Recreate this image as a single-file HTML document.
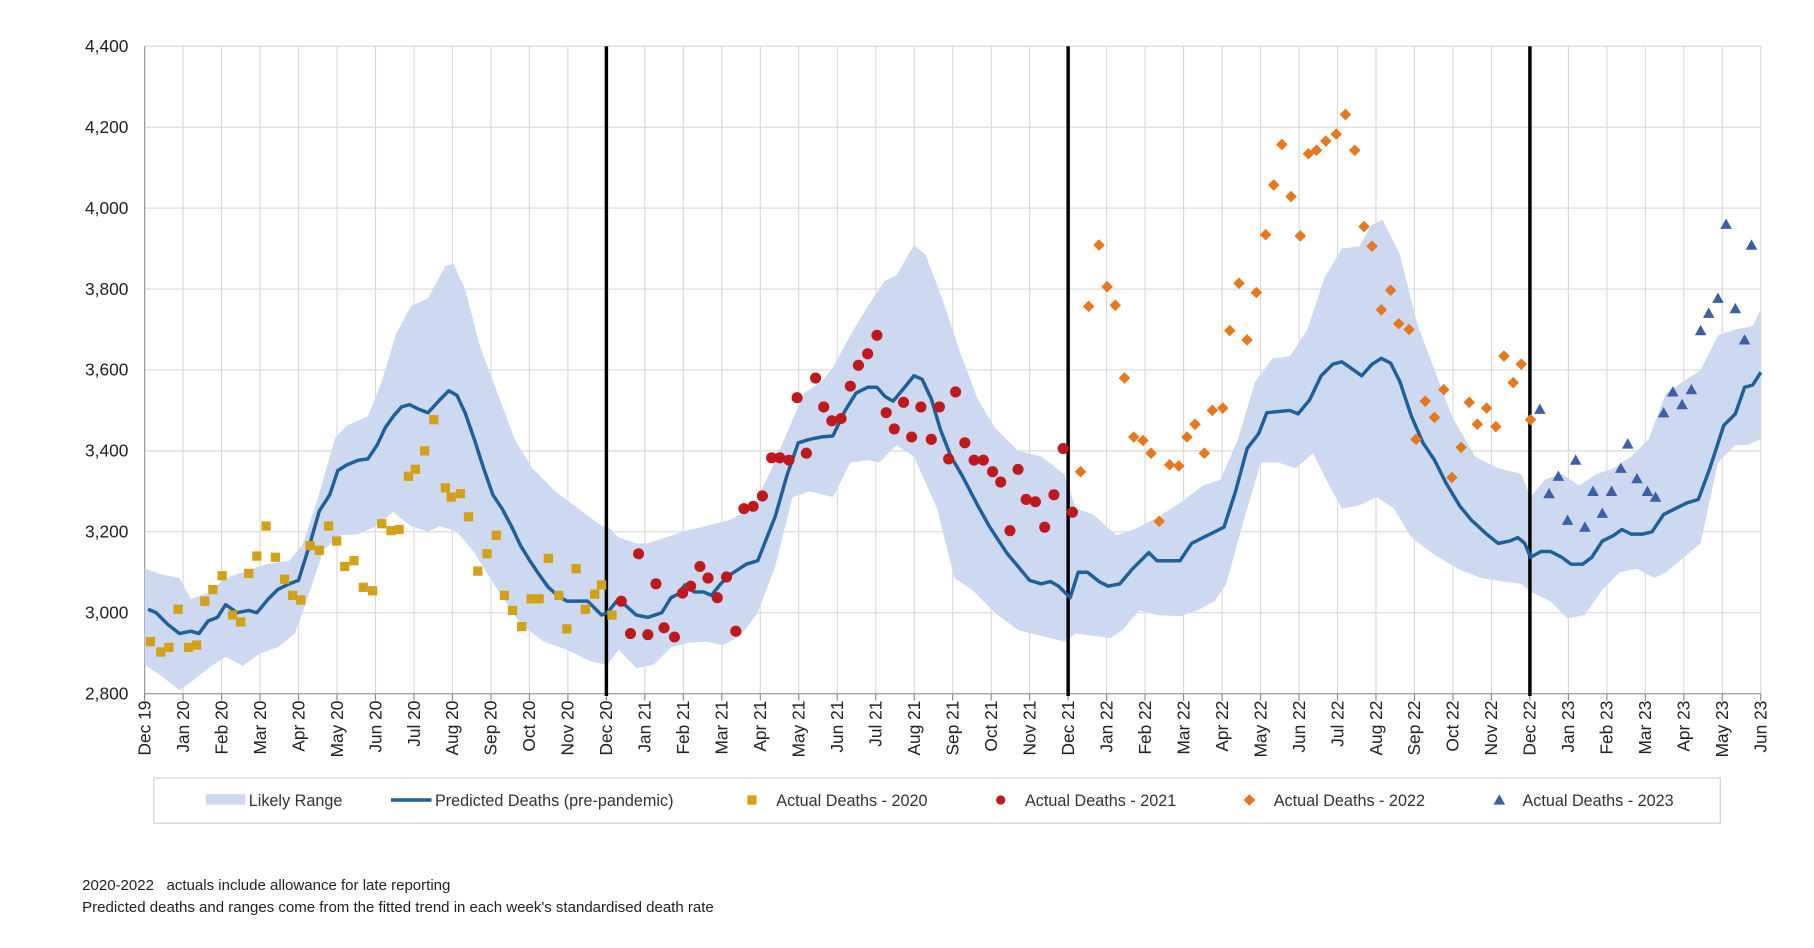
<!DOCTYPE html>
<html><head><meta charset="utf-8"><style>
html,body{margin:0;padding:0;background:#fff;}
svg{display:block;font-family:"Liberation Sans",Arial,sans-serif;}
</style></head><body>
<svg id="s" width="1814" height="948" viewBox="0 0 1568 820" preserveAspectRatio="none" xmlns="http://www.w3.org/2000/svg">
<g id="grid"></g>
<path id="band" fill="#cdd9f0" stroke="none"/>
<g id="vlines"></g>
<polyline id="pred" fill="none" stroke="#1f5f9a" stroke-width="3" stroke-linejoin="round"/>
<g id="pts"></g>
<g id="labels"></g>
<rect x="133" y="673" width="1354" height="39" fill="#fff" stroke="#d0d0d0"/>
<rect x="178" y="687" width="34" height="9" fill="#cdd9f0"/>
<text x="215" y="697" font-size="14" fill="#333">Likely Range</text>
<line x1="338" y1="692" x2="373" y2="692" stroke="#1f5f9a" stroke-width="3"/>
<text x="376" y="697" font-size="14" fill="#333">Predicted Deaths (pre-pandemic)</text>
<rect x="646" y="688" width="8" height="8" fill="#d4a017"/>
<text x="671" y="697" font-size="14" fill="#333">Actual Deaths - 2020</text>
<circle cx="865" cy="692" r="4" fill="#c0191b"/>
<text x="886" y="697" font-size="14" fill="#333">Actual Deaths - 2021</text>
<path d="M1080 687 L1085 692 L1080 697 L1075 692Z" fill="#e8771e"/>
<text x="1101" y="697" font-size="14" fill="#333">Actual Deaths - 2022</text>
<path d="M1296 687 L1301 696 L1291 696Z" fill="#3d5fa8"/>
<text x="1316" y="697" font-size="14" fill="#333">Actual Deaths - 2023</text>
<text x="71" y="770" font-size="13" fill="#222">2020-2022&#160;&#160; actuals include allowance for late reporting</text>
<text x="71" y="789" font-size="13" fill="#222">Predicted deaths and ranges come from the fitted trend in each week's standardised death rate</text>
</svg>
<script>
var NS="http://www.w3.org/2000/svg";
function el(p,t,a,txt){var e=document.createElementNS(NS,t);for(var k in a)e.setAttribute(k,a[k]);if(txt)e.textContent=txt;p.appendChild(e);return e;}
var L=125,R=1522,T=40,B=600;
var g=document.getElementById('grid'),lab=document.getElementById('labels');
for(var i=0;i<=8;i++){var y=T+i*70;el(g,'line',{x1:L,x2:R,y1:y,y2:y,stroke:'#d9d9d9','stroke-width':1});
el(lab,'text',{x:111,y:y+5,'font-size':15,'text-anchor':'end',fill:'#222'},(4400-i*200).toLocaleString('en-US'));}
var mn=['Dec','Jan','Feb','Mar','Apr','May','Jun','Jul','Aug','Sep','Oct','Nov'];
var step=(R-L)/42;
for(var m=0;m<=42;m++){var x=L+m*step;el(g,'line',{x1:x,x2:x,y1:T,y2:B,stroke:'#d9d9d9','stroke-width':1});
el(g,'line',{x1:x,x2:x,y1:B,y2:B+6,stroke:'#888'});
var yr=19+Math.floor((m+11)/12);var name=mn[m%12]+' '+yr;
el(lab,'text',{x:0,y:0,'font-size':15,'text-anchor':'end',fill:'#222',transform:'translate('+(x+5)+',606) rotate(-90)'},name);}
el(g,'line',{x1:L,x2:L,y1:T,y2:B,stroke:'#999'});
el(g,'line',{x1:L,x2:R,y1:B,y2:B,stroke:'#999'});
var vl=document.getElementById('vlines');
[12,24,36].forEach(function(m){var x=L+m*step;el(vl,'line',{x1:x,x2:x,y1:T,y2:B+2,stroke:'#000','stroke-width':3});});
var up=[[125,492],[140,497],[155,500],[165,518],[180,513],[195,500],[210,495],[230,488],[250,485],[262,470],[275,430],[290,378],[300,368],[318,360],[330,330],[342,290],[355,265],[370,258],[385,230],[392,228],[402,250],[415,300],[430,340],[445,380],[460,405],[480,425],[500,440],[520,455],[525,455],[535,465],[550,470],[560,470],[575,465],[590,460],[610,455],[630,450],[650,440],[665,410],[680,375],[695,340],[710,330],[720,318],[735,290],[750,265],[765,243],[775,238],[790,212],[800,220],[815,260],[830,305],[845,345],[860,370],[880,390],[900,395],[920,410],[930,440],[945,445],[965,463],[980,458],[1000,448],[1020,435],[1040,420],[1055,415],[1070,380],[1085,330],[1100,310],[1115,308],[1130,285],[1145,240],[1160,215],[1175,213],[1185,195],[1195,190],[1210,220],[1225,280],[1240,320],[1255,360],[1275,395],[1295,405],[1315,410],[1323,430],[1335,415],[1350,410],[1365,420],[1380,410],[1395,405],[1410,395],[1425,380],[1440,340],[1455,330],[1470,320],[1485,290],[1500,285],[1515,282],[1522,268]];
var lo=[[125,575],[140,585],[155,597],[165,590],[180,578],[195,568],[210,576],[225,565],[240,560],[255,548],[265,520],[280,475],[295,463],[310,462],[325,455],[340,443],[355,455],[370,460],[380,455],[395,460],[410,478],[430,510],[450,540],[470,555],[490,562],[510,572],[525,575],[535,562],[550,578],[565,575],[580,560],[595,556],[610,555],[625,558],[640,550],[655,530],[670,490],[685,430],[700,425],[720,430],[735,400],[750,398],[760,400],[775,385],[790,395],[810,440],[825,500],[840,510],[860,530],[880,545],[900,550],[920,555],[930,548],[945,550],[960,552],[970,545],[985,528],[1000,532],[1020,533],[1035,528],[1050,520],[1060,505],[1075,450],[1090,400],[1105,400],[1120,405],[1135,392],[1150,422],[1160,440],[1175,437],[1190,430],[1205,440],[1220,465],[1240,480],[1260,492],[1280,500],[1300,503],[1315,505],[1323,512],[1340,520],[1355,535],[1370,532],[1385,510],[1400,495],[1415,492],[1430,500],[1440,495],[1458,480],[1470,470],[1485,400],[1500,385],[1510,385],[1522,380]];
var d='M'+up.map(function(p){return p.join(' ')}).join(' L')+' L'+lo.slice().reverse().map(function(p){return p.join(' ')}).join(' L')+'Z';
document.getElementById('band').setAttribute('d',d);
var pr=[[128,527],[135,530],[145,540],[155,548],[165,546],[172,548],[180,537],[188,534],[195,523],[205,530],[215,528],[222,530],[232,518],[240,510],[250,505],[258,502],[268,470],[276,442],[285,428],[292,407],[300,402],[310,398],[318,397],[326,385],[333,370],[340,360],[347,352],[354,350],[362,354],[370,357],[380,346],[388,338],[395,342],[402,357],[410,380],[418,405],[426,428],[434,440],[442,455],[450,472],[458,485],[466,497],[474,508],[482,515],[490,520],[500,520],[508,520],[514,526],[520,532],[525,530],[533,520],[540,523],[550,532],[560,534],[566,532],[572,530],[580,517],[586,514],[592,506],[600,512],[608,512],[615,515],[623,505],[630,498],[645,488],[655,485],[670,447],[680,412],[690,383],[700,380],[710,378],[720,377],[730,356],[740,340],[750,335],[758,335],[765,343],[772,347],[782,335],[790,325],[797,328],[805,345],[813,372],[822,395],[832,412],[845,437],[855,455],[870,478],[880,490],[890,502],[900,505],[908,503],[915,507],[925,517],[932,495],[940,495],[950,503],[958,507],[968,505],[978,493],[986,485],[993,478],[1000,485],[1010,485],[1020,485],[1030,470],[1040,465],[1050,460],[1058,456],[1068,425],[1078,388],[1088,375],[1095,357],[1105,356],[1115,355],[1122,358],[1132,346],[1142,325],[1152,315],[1160,313],[1170,320],[1177,325],[1186,315],[1194,310],[1202,314],[1210,330],[1220,360],[1230,383],[1240,398],[1250,418],[1262,438],[1272,450],[1285,462],[1295,470],[1305,468],[1312,465],[1318,470],[1323,482],[1332,477],[1340,477],[1350,482],[1358,488],[1368,488],[1376,482],[1385,468],[1395,463],[1402,458],[1410,462],[1420,462],[1428,460],[1438,445],[1448,440],[1458,435],[1468,432],[1478,405],[1490,368],[1500,358],[1508,335],[1515,333],[1522,322]];
document.getElementById('pred').setAttribute('points',pr.map(function(p){return p.join(',')}).join(' '));
var pts=document.getElementById('pts');
var sq=[[130,555],[139,564],[146,560],[154,527],[163,560],[170,558],[177,520],[184,510],[192,498],[201,532],[208,538],[215,496],[222,481],[230,455],[238,482],[246,501],[253,515],[260,519],[268,472],[276,476],[284,455],[291,468],[298,490],[306,485],[314,508],[322,511],[330,453],[338,459],[345,458],[353,412],[359,406],[367,390],[375,363],[385,422],[390,430],[398,427],[405,447],[413,494],[421,479],[429,463],[436,515],[443,528],[451,542],[459,518],[466,518],[474,483],[483,515],[490,544],[498,492],[506,527],[514,514],[520,506],[529,532]];
sq.forEach(function(p){el(pts,'rect',{x:p[0]-4,y:p[1]-4,width:8,height:8,fill:'#d4a017'});});
var ci=[[537,520],[545,548],[552,479],[560,549],[567,505],[574,543],[583,551],[590,513],[597,507],[605,490],[612,500],[620,517],[628,499],[636,546],[643,440],[651,438],[659,429],[667,396],[674,396],[682,398],[689,344],[697,392],[705,327],[712,352],[719,364],[727,362],[735,334],[742,316],[750,306],[758,290],[766,357],[773,371],[781,348],[788,378],[796,352],[805,380],[812,352],[820,397],[826,339],[834,383],[842,398],[850,398],[858,408],[865,417],[873,459],[880,406],[887,432],[895,434],[903,456],[911,428],[919,388],[927,443]];
ci.forEach(function(p){el(pts,'circle',{cx:p[0],cy:p[1],r:4.8,fill:'#c0191b'});});
var di=[[934,408],[941,265],[950,212],[957,248],[964,264],[972,327],[980,378],[988,381],[995,392],[1002,451],[1011,402],[1019,403],[1026,378],[1033,367],[1041,392],[1048,355],[1057,353],[1063,286],[1071,245],[1078,294],[1086,253],[1094,203],[1101,160],[1108,125],[1116,170],[1124,204],[1131,133],[1138,130],[1146,122],[1155,116],[1163,99],[1171,130],[1179,196],[1186,213],[1194,268],[1202,251],[1209,280],[1218,285],[1224,380],[1232,347],[1240,361],[1248,337],[1255,413],[1263,387],[1270,348],[1277,367],[1285,353],[1293,369],[1300,308],[1308,331],[1315,315],[1323,363]];
di.forEach(function(p){el(pts,'path',{d:'M'+p[0]+' '+(p[1]-5)+' L'+(p[0]+5)+' '+p[1]+' L'+p[0]+' '+(p[1]+5)+' L'+(p[0]-5)+' '+p[1]+'Z',fill:'#e8771e'});});
var tr=[[1331,354],[1339,427],[1347,412],[1355,450],[1362,398],[1370,456],[1377,425],[1385,444],[1393,425],[1401,405],[1407,384],[1415,414],[1424,425],[1431,430],[1438,357],[1446,339],[1454,350],[1462,337],[1470,286],[1477,271],[1485,258],[1492,194],[1500,267],[1508,294],[1514,212]];
tr.forEach(function(p){el(pts,'path',{d:'M'+p[0]+' '+(p[1]-5)+' L'+(p[0]+5)+' '+(p[1]+4)+' L'+(p[0]-5)+' '+(p[1]+4)+'Z',fill:'#3d5fa8'});});
</script>
</body></html>
